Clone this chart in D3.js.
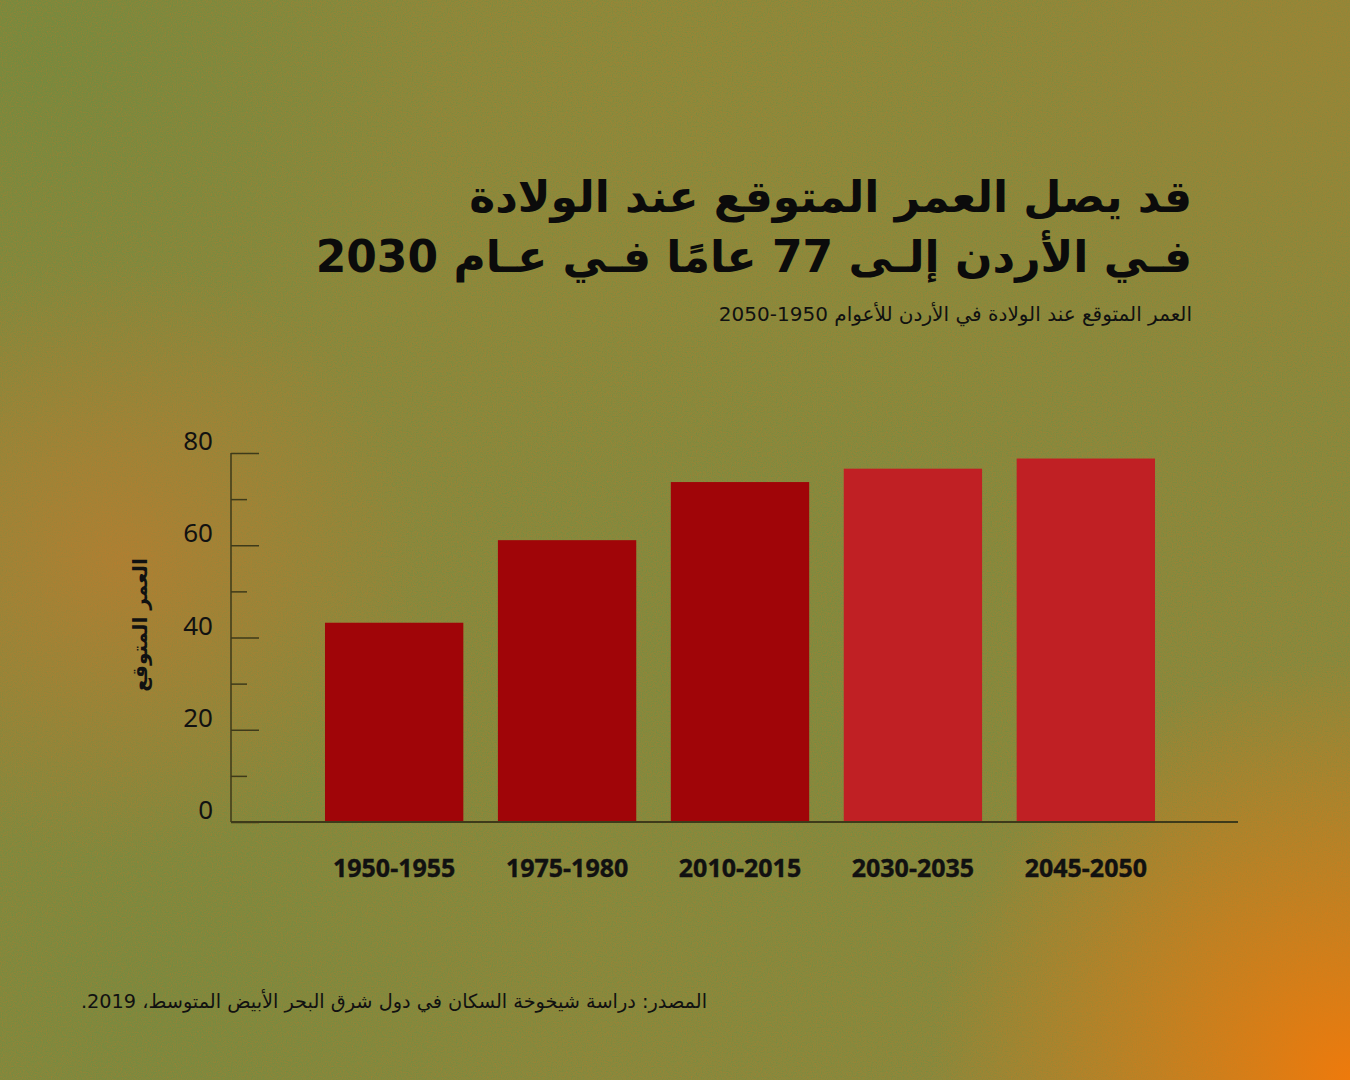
<!DOCTYPE html>
<html><head><meta charset="utf-8">
<script src="https://cdn.jsdelivr.net/npm/d3@7/dist/d3.min.js"></script>
<style>html,body{margin:0;padding:0;background:#878a3c;}svg{display:block;}</style>
</head><body>
<script>
const categories = ["1950-1955","1975-1980","2010-2015","2030-2035","2045-2050"];
const values = [43.2, 61.1, 73.7, 76.6, 78.8];
const projected = [false, false, false, true, true];
const yTicks = [0, 20, 40, 60, 80];
const yMinorTicks = [10, 30, 50, 70];
const titleLines = ["قد يصل العمر المتوقع عند الولادة", "فـي الأردن إلـى 77 عامًا فـي عـام 2030"];
const subtitle = "العمر المتوقع عند الولادة في الأردن للأعوام 1950-2050";
const yTitle = "العمر المتوقع";
const source = "المصدر: دراسة شيخوخة السكان في دول شرق البحر الأبيض المتوسط، 2019.";

const W = 1350, H = 1080;
const svg = d3.select("body").append("svg").attr("width", W).attr("height", H);
const defs = svg.append("defs");

// background gradients
const rg = (id, cx, cy, r, color, op) => {
  const g = defs.append("radialGradient").attr("id", id).attr("gradientUnits","userSpaceOnUse")
    .attr("cx", cx).attr("cy", cy).attr("r", r);
  g.append("stop").attr("offset", "0%").attr("stop-color", color).attr("stop-opacity", op);
  g.append("stop").attr("offset", "100%").attr("stop-color", color).attr("stop-opacity", 0);
};
rg("gTop", 700, 60, 480, "#978a36", 0.4);
rg("gTL", 40, 60, 400, "#6c8a3e", 0.6);
rg("gBL", 150, 1000, 450, "#6e8a40", 0.5);
rg("gC", 780, 700, 420, "#788c40", 0.45);

svg.append("rect").attr("width", W).attr("height", H).attr("fill", "#8a893c");
["gTop","gTL","gBL","gC"].forEach(id =>
  svg.append("rect").attr("width", W).attr("height", H).attr("fill", `url(#${id})`));

// grain: orange speckles and green speckles
const grain = (id, seed, rgb, k, b) => {
  const f = defs.append("filter").attr("id", id).attr("x", 0).attr("y", 0)
    .attr("width", "100%").attr("height", "100%").attr("color-interpolation-filters", "sRGB");
  f.append("feTurbulence").attr("type", "fractalNoise").attr("baseFrequency", 0.8)
    .attr("numOctaves", 2).attr("seed", seed);
  f.append("feColorMatrix").attr("type", "matrix")
    .attr("values", `0 0 0 0 ${rgb[0]}  0 0 0 0 ${rgb[1]}  0 0 0 0 ${rgb[2]}  ${k} 0 0 0 ${b}`);
};
grain("nOr", 3, [0.72, 0.47, 0.17], 1.1, -0.45);
grain("nGr", 11, [0.38, 0.56, 0.27], -1.1, 0.62);
svg.append("rect").attr("width", W).attr("height", H).attr("filter", "url(#nOr)");
svg.append("rect").attr("width", W).attr("height", H).attr("filter", "url(#nGr)");

// warm glows on top of grain
rg("gBR", 1350, 1080, 420, "#ee7a0c", 1);
rg("gL", 120, 560, 300, "#c47a2c", 0.6);
rg("gTR", 1320, 40, 360, "#a8822f", 0.4);
["gL","gTR","gBR"].forEach(id =>
  svg.append("rect").attr("width", W).attr("height", H).attr("fill", `url(#${id})`));

const arFont = "'DejaVu Sans', sans-serif";
const numFont = "'Noto Sans', 'DejaVu Sans', sans-serif";

// scales
const x = d3.scaleBand().domain(categories).range([307.7, 1172.3]).paddingInner(0.2).paddingOuter(0.1);
const y = d3.scaleLinear().domain([0, 80]).range([822, 453]);

// bars
svg.append("g").selectAll("rect").data(categories).join("rect")
  .attr("x", d => x(d)).attr("width", x.bandwidth())
  .attr("y", (d, i) => y(values[i])).attr("height", (d, i) => y(0) - y(values[i]))
  .attr("fill", (d, i) => projected[i] ? "#c02024" : "#a00508");

// y axis
const axisColor = "#3e3a1a";
const yAxisG = svg.append("g").attr("transform", "translate(231,0)");
yAxisG.append("line").attr("x1", 0).attr("x2", 0).attr("y1", y(80)).attr("y2", y(0))
  .attr("stroke", axisColor).attr("stroke-width", 1.5);
const yAxis = d3.axisRight(y).tickValues(yTicks).tickSize(28).tickFormat("");
const yg = yAxisG.append("g").call(yAxis);
yg.select(".domain").remove();
yg.selectAll("line").attr("stroke", axisColor).attr("stroke-width", 1.5);
const yMinor = d3.axisRight(y).tickValues(yMinorTicks).tickSize(16).tickFormat("");
const ym = yAxisG.append("g").call(yMinor);
ym.select(".domain").remove();
ym.selectAll("line").attr("stroke", axisColor).attr("stroke-width", 1.5);

// y tick labels
svg.append("g").selectAll("text").data(yTicks).join("text")
  .attr("x", 213).attr("y", d => y(d) - 3)
  .attr("text-anchor", "end").attr("font-family", numFont).attr("font-size", 26)
  .attr("fill", "#111").text(d => d);

// x axis baseline
svg.append("line").attr("x1", 231).attr("x2", 1238).attr("y1", y(0)).attr("y2", y(0))
  .attr("stroke", axisColor).attr("stroke-width", 2);

// x labels
const xAxis = d3.axisBottom(x).tickSize(0).tickPadding(0);
const xg = svg.append("g").attr("transform", `translate(0,${y(0)})`).call(xAxis);
xg.select(".domain").remove();
xg.selectAll("text").attr("dy", null).attr("y", 55)
  .attr("font-family", numFont).attr("font-weight", "bold").attr("font-size", 25)
  .attr("stroke", "#111").attr("stroke-width", 0.4).attr("fill", "#111");

// y title
svg.append("text").attr("transform", "translate(147,625) rotate(-90)")
  .attr("text-anchor", "middle").attr("direction", "rtl")
  .attr("font-family", arFont).attr("font-weight", "bold").attr("font-size", 20)
  .attr("fill", "#111").text(yTitle);

// title
svg.append("g").selectAll("text").data(titleLines).join("text")
  .attr("x", 1192).attr("y", (d, i) => 212 + i * 60)
  .attr("direction", "rtl").attr("text-anchor", "start")
  .attr("font-family", arFont).attr("font-weight", "bold").attr("font-size", 44)
  .attr("fill", "#0b0b0b").text(d => d);

// subtitle
svg.append("text").attr("x", 1192).attr("y", 321)
  .attr("direction", "rtl").attr("text-anchor", "start")
  .attr("font-family", arFont).attr("font-size", 20).attr("fill", "#111").text(subtitle);

// source
svg.append("text").attr("x", 707).attr("y", 1008)
  .attr("direction", "rtl").attr("text-anchor", "start")
  .attr("font-family", arFont).attr("font-size", 19.3).attr("fill", "#111").text(source);
</script>
</body></html>
